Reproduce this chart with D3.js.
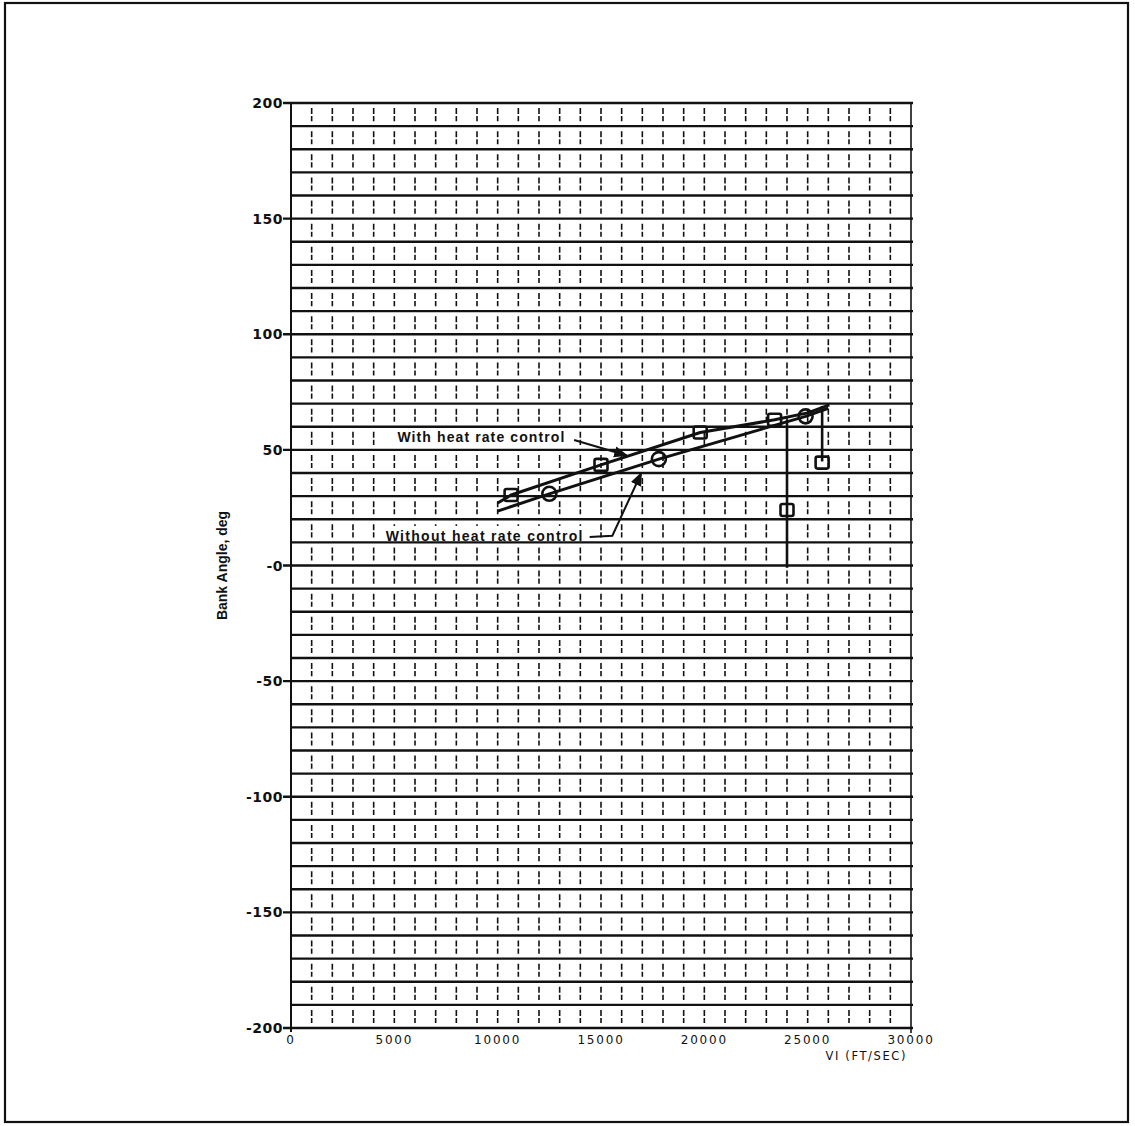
<!DOCTYPE html>
<html>
<head>
<meta charset="utf-8">
<script src="https://cdn.jsdelivr.net/npm/d3@7"></script>
<style>
  html, body { margin: 0; padding: 0; background: #fff; }
  svg { display: block; }
</style>
</head>
<body>
<svg id="chart" width="1135" height="1126"></svg>
<script>
// Bank angle versus inertial velocity, with and without heat rate control.

// Axis ticks
const xTicks = [0, 5000, 10000, 15000, 20000, 25000, 30000];
const xTickLabels = ["0", "5000", "10000", "15000", "20000", "25000", "30000"];
const yTicks = [200, 150, 100, 50, 0, -50, -100, -150, -200];
const yTickLabels = ["200", "150", "100", "50", "-0", "-50", "-100", "-150", "-200"];

// With heat rate control: trajectory trace [VI ft/s, bank deg]
const withVI   = [10000, 10650, 15000, 19800, 23400, 25000, 26050];
const withBank = [27, 30.5, 43.5, 57.5, 63, 66, 69.5];
// square markers on that trace
const withMarkVI   = [10650, 15000, 19800, 23400];
const withMarkBank = [30.5, 43.5, 57.5, 63];

// Without heat rate control: trajectory trace
const woVI   = [10000, 12500, 17800, 24900, 26000];
const woBank = [23.5, 31, 46, 64.5, 68];
// circle markers on that trace
const woMarkVI   = [12500, 17800, 24900];
const woMarkBank = [31, 46, 64.5];

// Bank reversals dropping off the upper trace
const dropVI     = [24000, 25700];
const dropFrom   = [63, 69];
const dropTo     = [-1, 45];
const dropMarker = [24, 44.5];

const svg = d3.select("#chart");

const x = d3.scaleLinear().domain([0, 30000]).range([291, 911]);
const y = d3.scaleLinear().domain([-200, 200]).range([1028, 103]);

const ink = "#111";

// outer frame
svg.append("rect")
  .attr("x", 5).attr("y", 3).attr("width", 1123).attr("height", 1119)
  .attr("fill", "none").attr("stroke", ink).attr("stroke-width", 2.2);

const grid = svg.append("g");

// short vertical marks every 1000 ft/s inside each 10-degree band
const bands = d3.range(-200, 200, 10);
const xMinor = d3.range(1000, 30000, 1000);
bands.forEach(b => {
  const top = y(b + 10), bot = y(b);
  grid.append("g").selectAll("line").data(xMinor).join("line")
    .attr("x1", d => x(d)).attr("x2", d => x(d))
    .attr("y1", top + 5).attr("y2", bot - 5)
    .attr("stroke", ink).attr("stroke-width", 1.6)
    .attr("stroke-dasharray", "6,2,6");
});

// blank patches behind the callout text
const labelFont = "Liberation Sans, Arial, sans-serif";
const blank = svg.append("g");

// horizontal rules every 10 degrees
const hLines = d3.range(-200, 201, 10);
const rules = svg.append("g");
rules.selectAll("line").data(hLines).join("line")
  .attr("x1", d => yTicks.includes(d) ? x(0) - 8 : x(0))
  .attr("x2", x(30000) + 2)
  .attr("y1", d => y(d)).attr("y2", d => y(d))
  .attr("stroke", ink).attr("stroke-width", 2.4);

// left and right frame of the plot
rules.append("line")
  .attr("x1", x(0)).attr("x2", x(0)).attr("y1", y(200)).attr("y2", y(-200) + 4)
  .attr("stroke", ink).attr("stroke-width", 2);
rules.append("line")
  .attr("x1", x(30000)).attr("x2", x(30000)).attr("y1", y(200)).attr("y2", y(-200) + 5)
  .attr("stroke", ink).attr("stroke-width", 1.6);

// y tick labels
svg.append("g").selectAll("text").data(yTicks).join("text")
  .attr("x", x(0) - 8).attr("y", d => y(d))
  .attr("dy", "0.36em")
  .attr("text-anchor", "end")
  .attr("font-family", "DejaVu Sans, sans-serif")
  .attr("font-size", 14).attr("font-weight", "bold")
  .attr("letter-spacing", 0.5)
  .attr("fill", ink)
  .text((d, i) => yTickLabels[i]);

// x tick labels
svg.append("g").selectAll("text").data(xTicks).join("text")
  .attr("x", d => x(d)).attr("y", y(-200) + 16)
  .attr("text-anchor", "middle")
  .attr("font-family", "DejaVu Sans, sans-serif")
  .attr("font-size", 12)
  .attr("letter-spacing", 1.8)
  .attr("fill", ink)
  .text((d, i) => xTickLabels[i]);

// axis titles
svg.append("text")
  .attr("x", x(30000) - 4).attr("y", y(-200) + 32)
  .attr("text-anchor", "end")
  .attr("font-family", "DejaVu Sans, sans-serif")
  .attr("font-size", 11.5).attr("letter-spacing", 1.6)
  .attr("fill", ink)
  .text("VI (FT/SEC)");

svg.append("text")
  .attr("transform", `translate(227, ${y(0)}) rotate(-90)`)
  .attr("text-anchor", "middle")
  .attr("font-family", labelFont)
  .attr("font-size", 14).attr("font-weight", "bold")
  .attr("fill", ink)
  .text("Bank Angle, deg");

// arrowhead marker
svg.append("defs").append("marker")
  .attr("id", "arrow").attr("viewBox", "0 0 10 10")
  .attr("refX", 9).attr("refY", 5)
  .attr("markerWidth", 7).attr("markerHeight", 7)
  .attr("orient", "auto-start-reverse")
  .append("path").attr("d", "M0,1 L10,5 L0,9 Z").attr("fill", ink);

const line = d3.line().x(d => x(d[0])).y(d => y(d[1]));
const plot = svg.append("g");

// traces
plot.append("path")
  .datum(d3.zip(withVI, withBank))
  .attr("d", line).attr("fill", "none")
  .attr("stroke", ink).attr("stroke-width", 3).attr("stroke-linejoin", "round");
plot.append("path")
  .datum(d3.zip(woVI, woBank))
  .attr("d", line).attr("fill", "none")
  .attr("stroke", ink).attr("stroke-width", 3).attr("stroke-linejoin", "round");

// reversal drops
plot.append("g").selectAll("line").data(d3.range(dropVI.length)).join("line")
  .attr("x1", i => x(dropVI[i])).attr("x2", i => x(dropVI[i]))
  .attr("y1", i => y(dropFrom[i])).attr("y2", i => y(dropTo[i]))
  .attr("stroke", ink).attr("stroke-width", 2.6);

// square markers
const sqW = 13, sqH = 12;
const squares = d3.zip(withMarkVI, withMarkBank).concat(d3.zip(dropVI, dropMarker));
plot.append("g").selectAll("rect").data(squares).join("rect")
  .attr("x", d => x(d[0]) - sqW / 2).attr("y", d => y(d[1]) - sqH / 2)
  .attr("width", sqW).attr("height", sqH).attr("rx", 2)
  .attr("fill", "none").attr("stroke", ink).attr("stroke-width", 2.6);

// circle markers
plot.append("g").selectAll("circle").data(d3.zip(woMarkVI, woMarkBank)).join("circle")
  .attr("cx", d => x(d[0])).attr("cy", d => y(d[1])).attr("r", 7)
  .attr("fill", "none").attr("stroke", ink).attr("stroke-width", 2.6);

// callouts
function callout(vi, bank, text, spacing) {
  const t = svg.append("text")
    .attr("x", x(vi)).attr("y", y(bank)).attr("dy", "0.36em")
    .attr("font-family", labelFont).attr("font-size", 14).attr("font-weight", "bold")
    .attr("letter-spacing", spacing)
    .attr("fill", ink).text(text);
  const bb = t.node().getBBox();
  blank.append("rect")
    .attr("x", bb.x - 6).attr("y", bb.y - 2)
    .attr("width", bb.width + 12).attr("height", bb.height + 4)
    .attr("fill", "#fff");
}
callout(5150, 55.5, "With heat rate control", 1.1);
svg.append("path")
  .datum([[13700, 54.3], [16250, 47.6]])
  .attr("d", line).attr("fill", "none")
  .attr("stroke", ink).attr("stroke-width", 2).attr("marker-end", "url(#arrow)");

callout(4580, 12.8, "Without heat rate control", 1.3);
svg.append("path")
  .datum([[14450, 12.3], [15550, 12.9], [16950, 40]])
  .attr("d", line).attr("fill", "none")
  .attr("stroke", ink).attr("stroke-width", 2).attr("marker-end", "url(#arrow)");
</script>
</body>
</html>
